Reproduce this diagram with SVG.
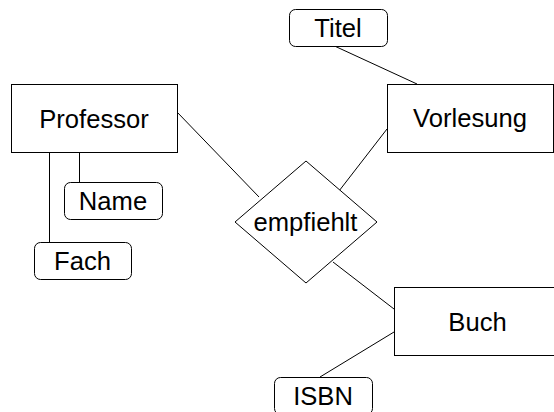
<svg xmlns="http://www.w3.org/2000/svg" width="554" height="412" viewBox="0 0 554 412">
<style>
.ent{fill:#fff;stroke:#000;stroke-width:1}
.att{fill:#fff;stroke:#000;stroke-width:1}
.rel{fill:#fff;stroke:#000;stroke-width:1}
.lbl{font-family:"Liberation Sans",Arial,sans-serif;font-size:25.6px;fill:#000;text-anchor:middle}
.con line{stroke:#000;stroke-width:1}
</style>
<rect width="554" height="412" fill="#fff"/>
<g id="connectors" class="con">
<line x1="177" y1="112" x2="259" y2="197"/>
<line x1="387" y1="129" x2="339" y2="191"/>
<line x1="333" y1="262" x2="394" y2="309"/>
<line x1="334.5" y1="46" x2="417" y2="84"/>
<line x1="79.5" y1="152" x2="79.5" y2="182"/>
<line x1="49.5" y1="152" x2="49.5" y2="242"/>
<line x1="394" y1="332" x2="320" y2="377"/>
</g>
<g id="professor"><rect class="ent" x="11.5" y="84.5" width="166" height="68"/><text class="lbl" x="94" y="127.5">Professor</text></g>
<g id="vorlesung"><rect class="ent" x="387.5" y="84.5" width="166" height="68"/><text class="lbl" x="470" y="127">Vorlesung</text></g>
<g id="buch"><rect class="ent" x="394.5" y="287.5" width="166" height="68"/><text class="lbl" x="477.5" y="331">Buch</text></g>
<g id="empfiehlt"><polygon class="rel" points="306,161 377,222 306,283 235,222"/><text class="lbl" x="305.5" y="231">empfiehlt</text></g>
<g id="titel"><rect class="att" x="289.5" y="9.5" width="98" height="37" rx="6"/><text class="lbl" x="338" y="37">Titel</text></g>
<g id="name"><rect class="att" x="64.5" y="182.5" width="98" height="37" rx="6"/><text class="lbl" x="113" y="210">Name</text></g>
<g id="fach"><rect class="att" x="34.5" y="242.5" width="97" height="37" rx="6"/><text class="lbl" x="82.5" y="270">Fach</text></g>
<g id="isbn"><rect class="att" x="274.5" y="377.5" width="98" height="37" rx="6"/><text class="lbl" x="323" y="405">ISBN</text></g>
</svg>
